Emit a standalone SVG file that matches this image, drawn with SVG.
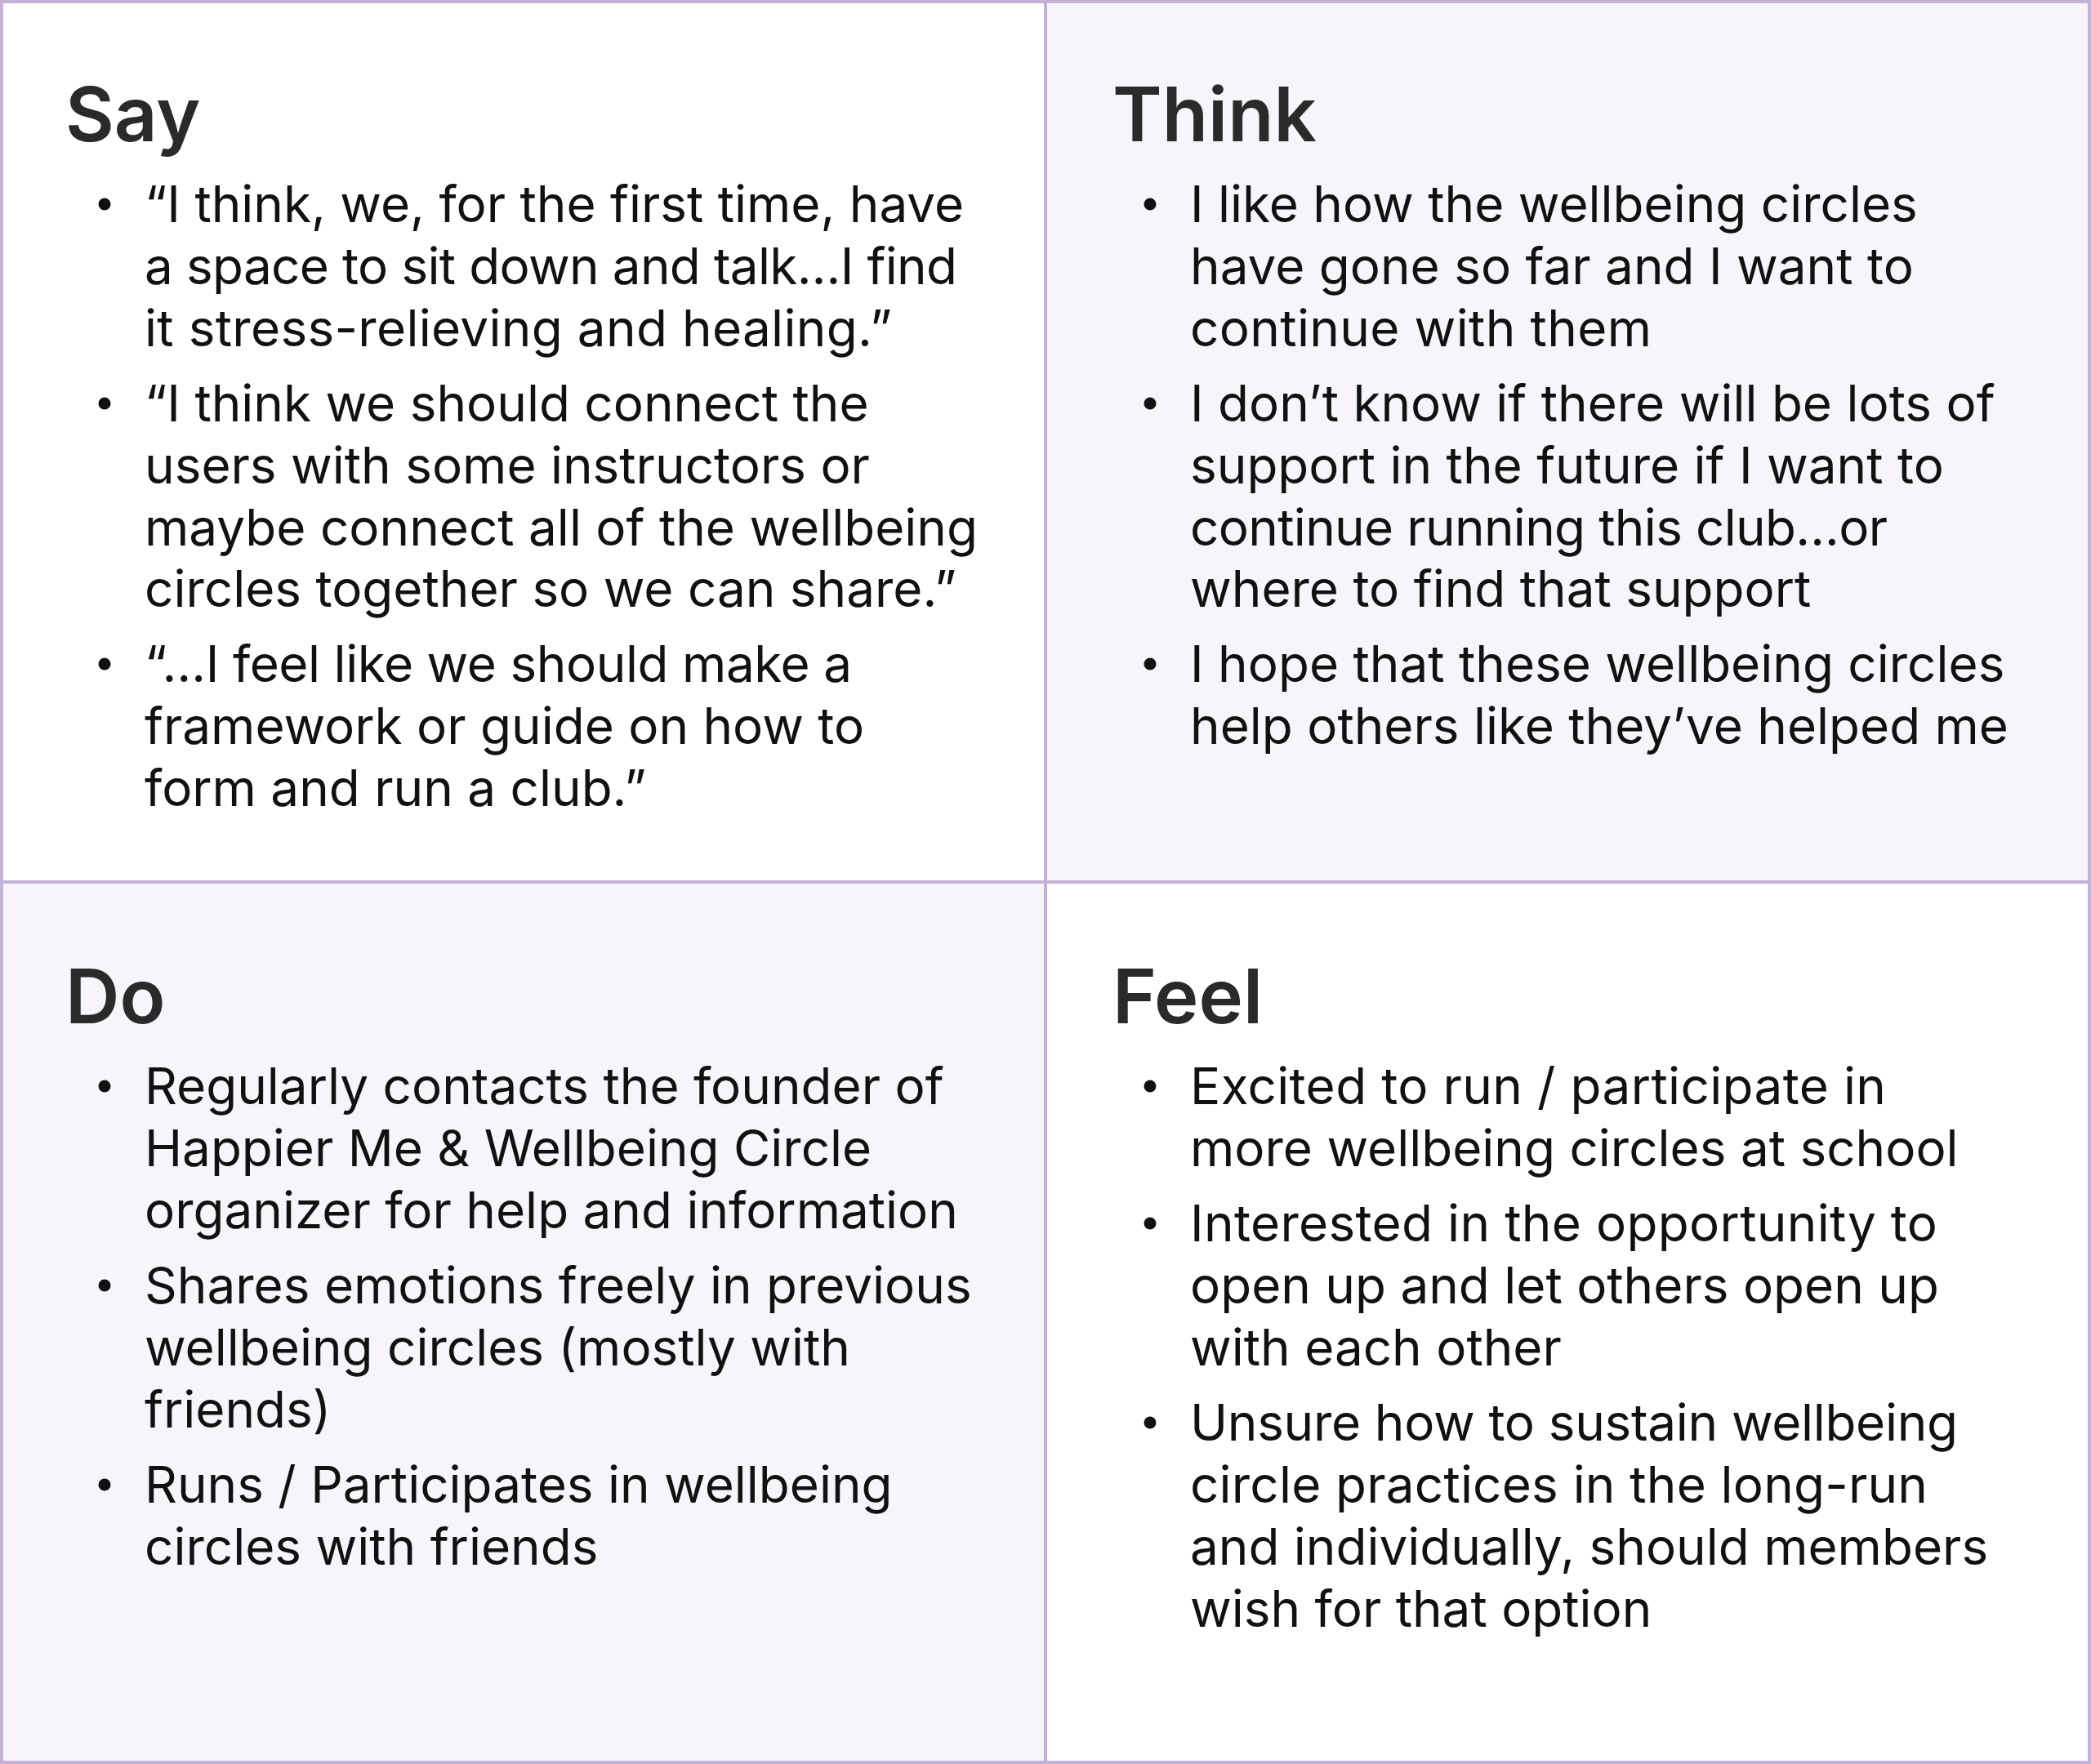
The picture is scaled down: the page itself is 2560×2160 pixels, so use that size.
<svg xmlns="http://www.w3.org/2000/svg" width="2560" height="2160" viewBox="0 0 2560 2160">
<style>
.bg-w{fill:#ffffff}
.bg-p{fill:#f7f5fa}
.grid{stroke:#c4b1d6;stroke-width:4;fill:none}
.h{font-family:Inter,"Liberation Sans",sans-serif;font-weight:600;font-size:92px;fill:#2a2a2a}
.t{font-family:Inter,"Liberation Sans",sans-serif;font-weight:400;font-size:62px;fill:#111111}
.b{fill:#111111}
</style>
<g id="say">
<rect class="bg-w" x="0" y="0" width="1280" height="1080"/>
<text class="h" x="80" y="173">Say</text>
<circle class="b" cx="128" cy="250" r="7.5"/>
<text class="t" x="177" y="272">“I think, we, for the first time, have</text>
<text class="t" x="177" y="348" textLength="995" lengthAdjust="spacing">a space to sit down and talk…I find</text>
<text class="t" x="177" y="424" textLength="915" lengthAdjust="spacing">it stress-relieving and healing.”</text>
<circle class="b" cx="128" cy="494" r="7.5"/>
<text class="t" x="177" y="516">“I think we should connect the</text>
<text class="t" x="177" y="592">users with some instructors or</text>
<text class="t" x="177" y="668">maybe connect all of the wellbeing</text>
<text class="t" x="177" y="743">circles together so we can share.”</text>
<circle class="b" cx="128" cy="813" r="7.5"/>
<text class="t" x="177" y="835" textLength="866" lengthAdjust="spacing">“…I feel like we should make a</text>
<text class="t" x="177" y="911">framework or guide on how to</text>
<text class="t" x="177" y="987">form and run a club.”</text>
</g>
<g id="think">
<rect class="bg-p" x="1280" y="0" width="1280" height="1080"/>
<text class="h" x="1362" y="173">Think</text>
<circle class="b" cx="1408" cy="250" r="7.5"/>
<text class="t" x="1457" y="272">I like how the wellbeing circles</text>
<text class="t" x="1457" y="348">have gone so far and I want to</text>
<text class="t" x="1457" y="424" textLength="565" lengthAdjust="spacing">continue with them</text>
<circle class="b" cx="1408" cy="494" r="7.5"/>
<text class="t" x="1457" y="516">I don’t know if there will be lots of</text>
<text class="t" x="1457" y="592">support in the future if I want to</text>
<text class="t" x="1457" y="668" textLength="854" lengthAdjust="spacing">continue running this club…or</text>
<text class="t" x="1457" y="743">where to find that support</text>
<circle class="b" cx="1408" cy="813" r="7.5"/>
<text class="t" x="1457" y="835">I hope that these wellbeing circles</text>
<text class="t" x="1457" y="911">help others like they’ve helped me</text>
</g>
<g id="do">
<rect class="bg-p" x="0" y="1080" width="1280" height="1080"/>
<text class="h" x="80" y="1253">Do</text>
<circle class="b" cx="128" cy="1330" r="7.5"/>
<text class="t" x="177" y="1352">Regularly contacts the founder of</text>
<text class="t" x="177" y="1428">Happier Me &amp; Wellbeing Circle</text>
<text class="t" x="177" y="1504">organizer for help and information</text>
<circle class="b" cx="128" cy="1574" r="7.5"/>
<text class="t" x="177" y="1596">Shares emotions freely in previous</text>
<text class="t" x="177" y="1672">wellbeing circles (mostly with</text>
<text class="t" x="177" y="1748">friends)</text>
<circle class="b" cx="128" cy="1818" r="7.5"/>
<text class="t" x="177" y="1840">Runs / Participates in wellbeing</text>
<text class="t" x="177" y="1916">circles with friends</text>
</g>
<g id="feel">
<rect class="bg-w" x="1280" y="1080" width="1280" height="1080"/>
<text class="h" x="1362" y="1253">Feel</text>
<circle class="b" cx="1408" cy="1330" r="7.5"/>
<text class="t" x="1457" y="1352" textLength="852" lengthAdjust="spacing">Excited to run / participate in</text>
<text class="t" x="1457" y="1428">more wellbeing circles at school</text>
<circle class="b" cx="1408" cy="1498" r="7.5"/>
<text class="t" x="1457" y="1520" textLength="915" lengthAdjust="spacing">Interested in the opportunity to</text>
<text class="t" x="1457" y="1596">open up and let others open up</text>
<text class="t" x="1457" y="1672">with each other</text>
<circle class="b" cx="1408" cy="1742" r="7.5"/>
<text class="t" x="1457" y="1764" textLength="940" lengthAdjust="spacing">Unsure how to sustain wellbeing</text>
<text class="t" x="1457" y="1840" textLength="903" lengthAdjust="spacing">circle practices in the long-run</text>
<text class="t" x="1457" y="1916">and individually, should members</text>
<text class="t" x="1457" y="1992">wish for that option</text>
</g>
<g id="connectors">
<rect class="grid" x="2" y="2" width="2556" height="2156"/>
<line class="grid" x1="1280" y1="0" x2="1280" y2="2160"/>
<line class="grid" x1="0" y1="1080" x2="2560" y2="1080"/>
</g>
</svg>
